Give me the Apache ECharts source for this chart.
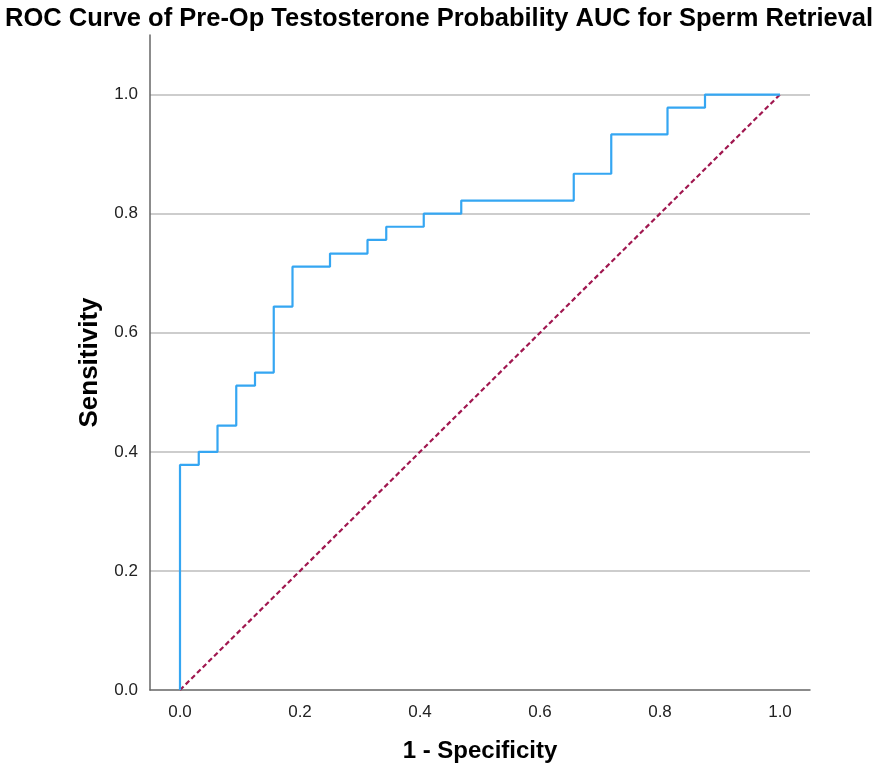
<!DOCTYPE html>
<html><head><meta charset="utf-8">
<script src="https://cdn.jsdelivr.net/npm/echarts@6/dist/echarts.min.js"></script>
<style>html,body{margin:0;padding:0;background:#fff}#c{width:879px;height:774px}</style>
</head><body><div id="c"></div>
<script>
const titleText = 'ROC Curve of Pre-Op Testosterone Probability AUC for Sperm Retrieval';
const xName = '1 - Specificity';
const yName = 'Sensitivity';
const fpr = [0, 0, 0.03125, 0.0625, 0.09375, 0.125, 0.15625, 0.1875, 0.25, 0.3125, 0.34375, 0.40625, 0.46875, 0.65625, 0.71875, 0.8125, 0.875, 1.0];
const tpr = [0, 0.378, 0.400, 0.444, 0.511, 0.533, 0.644, 0.711, 0.733, 0.756, 0.778, 0.800, 0.822, 0.867, 0.933, 0.978, 1.0, 1.0];
const refX = [0, 1];
const refY = [0, 1];
const tickValues = [0, 0.2, 0.4, 0.6, 0.8, 1.0];

const chart = echarts.init(document.getElementById('c'));
const font = '"Liberation Sans", Arial, sans-serif';
chart.setOption({
  animation: false,
  backgroundColor: '#fff',
  title: { text: titleText, left: 0, top: 1,
    textStyle: { fontFamily: font, fontSize: 25.5, fontWeight: 'bold', color: '#000' } },
  grid: { left: 150, right: 69, top: 35, bottom: 84 },
  xAxis: {
    type: 'value', min: -0.05, max: 1.05,
    name: xName, nameLocation: 'middle', nameGap: 49,
    nameTextStyle: { fontFamily: font, fontSize: 24, fontWeight: 'bold', color: '#000' },
    axisLine: { show: true, onZero: false, lineStyle: { color: '#666', width: 1.5 } },
    axisTick: { show: false },
    splitLine: { show: false },
    axisLabel: { customValues: tickValues, margin: 14, fontFamily: font, fontSize: 17, color: '#222',
      formatter: v => v.toFixed(1) }
  },
  yAxis: {
    type: 'value', min: 0, max: 1.1, interval: 0.2,
    name: yName, nameLocation: 'middle', nameGap: 47,
    nameTextStyle: { fontFamily: font, fontSize: 26, fontWeight: 'bold', color: '#000' },
    axisLine: { show: true, onZero: false, lineStyle: { color: '#666', width: 1.5 } },
    axisTick: { show: false },
    splitLine: { show: true, showMinLine: false, showMaxLine: false, lineStyle: { color: '#bdbdbd', width: 1.5 } },
    axisLabel: { showMaxLabel: false, margin: 12, fontFamily: font, fontSize: 17, color: '#222',
      formatter: v => v.toFixed(1) }
  },
  series: [
    { type: 'line', data: refX.map((x, i) => [x, refY[i]]), showSymbol: false, z: 2,
      lineStyle: { color: '#a0174f', width: 2.2, type: [5, 3] } },
    { type: 'line', step: 'end', data: fpr.map((x, i) => [x, tpr[i]]), showSymbol: false, z: 3,
      lineStyle: { color: '#35a6f2', width: 2.2 } }
  ]
});
</script></body></html>
